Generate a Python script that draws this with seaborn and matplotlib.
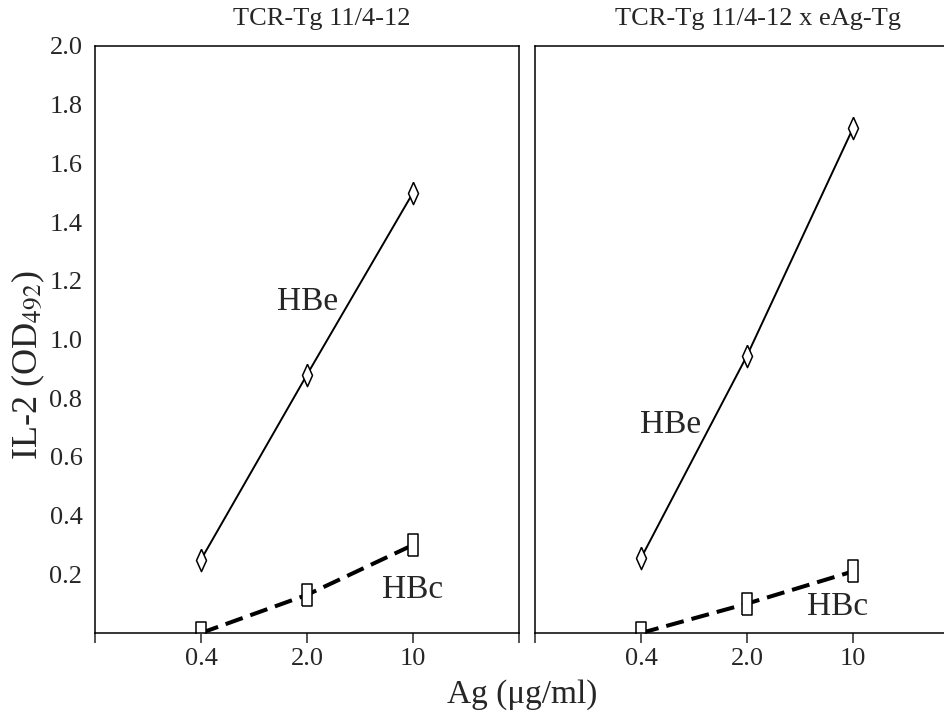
import matplotlib
matplotlib.use("Agg")
import matplotlib.pyplot as plt
import seaborn as sns

# data
doses = ["0.4", "2.0", "10"]
titles = ["TCR-Tg 11/4-12", "TCR-Tg 11/4-12 x eAg-Tg"]
hbe_left = [0.25, 0.88, 1.50]
hbc_left = [0.0, 0.13, 0.30]
hbe_right = [0.255, 0.945, 1.72]
hbc_right = [0.0, 0.10, 0.21]
yticks = [0.2, 0.4, 0.6, 0.8, 1.0, 1.2, 1.4, 1.6, 1.8, 2.0]

sns.set_style("ticks")
plt.rcParams["font.family"] = ["Liberation Serif", "DejaVu Serif"]
plt.rcParams["mathtext.fontset"] = "stix"

diamond = [(0, 1), (0.45, 0), (0, -1), (-0.45, 0), (0, 1)]
rect = [(-0.45, -1), (0.45, -1), (0.45, 1), (-0.45, 1), (-0.45, -1)]

fig = plt.figure(figsize=(9.45, 7.14), dpi=100)
ax1 = fig.add_axes([95 / 945, 81 / 714, 424 / 945, 587 / 714])
ax2 = fig.add_axes([535 / 945, 81 / 714, 424 / 945, 587 / 714])

panels = [
    (ax1, hbe_left, hbc_left, titles[0], (1.01, 1.13), (2.0, 0.146), 0.535),
    (ax2, hbe_right, hbc_right, titles[1], (0.28, 0.71), (1.85, 0.089), 0.526),
]

for ax, hbe, hbc, title, pe, pc, tx in panels:
    sns.pointplot(x=doses, y=hbe, order=doses, color="black", errorbar=None,
                  marker=diamond, markersize=16, markerfacecolor="white",
                  markeredgecolor="black", markeredgewidth=1.1,
                  linestyle="-", linewidth=1.4, ax=ax)
    sns.pointplot(x=doses, y=hbc, order=doses, color="black", errorbar=None,
                  marker=rect, markersize=16, markerfacecolor="white",
                  markeredgecolor="black", markeredgewidth=1.1,
                  linestyle=(0, (4.5, 2.0)), linewidth=2.9, ax=ax)
    ax.text(pe[0], pe[1], "HBe", fontsize=24, ha="center", va="center")
    ax.text(pc[0], pc[1], "HBc", fontsize=24, ha="center", va="center")
    ax.set_xlim(-1, 3)
    ax.set_ylim(0, 2.0)
    ax.set_xticks([-1, 0, 1, 2, 3], [""] + doses + [""])
    ax.set_yticks(yticks, [f"{v:.1f}" for v in yticks])
    ax.tick_params(axis="x", length=7, width=1.1, direction="out", pad=4,
                   labelsize=19)
    ax.tick_params(axis="y", length=0, pad=9, labelsize=19)
    ax.set_xlabel("")
    ax.set_ylabel("")
    for s in ax.spines.values():
        s.set_visible(True)
        s.set_linewidth(1.1)
        s.set_color("black")
    ax.set_title(title, x=tx, y=1.046, va="center", fontsize=19, pad=0)

ax2.tick_params(axis="y", labelleft=False)

ax1.set_ylabel("IL-2 (OD$_{492}$)", fontsize=26)
ax1.yaxis.set_label_coords(-0.113, 0.457)
fig.text(522 / 945, 1 - 695 / 714, "Ag (\u03bcg/ml)", fontsize=24,
         ha="center", va="center")

fig.savefig("out.png", dpi=100)
